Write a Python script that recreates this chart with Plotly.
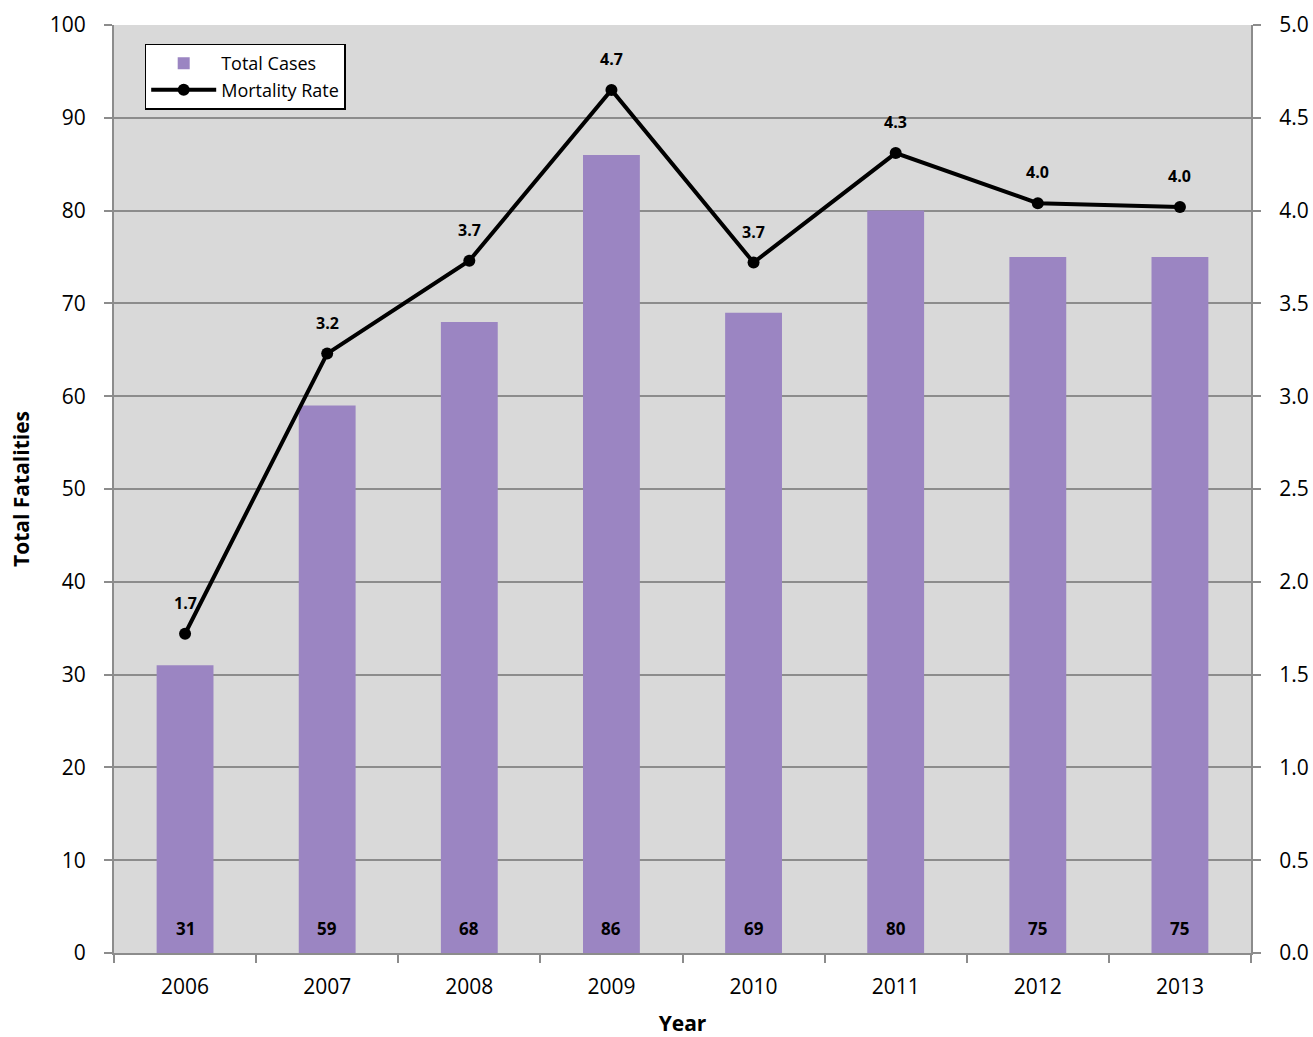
import plotly.graph_objects as go

years = [2006, 2007, 2008, 2009, 2010, 2011, 2012, 2013]
total_cases = [31, 59, 68, 86, 69, 80, 75, 75]
mortality_rate = [1.72, 3.23, 3.73, 4.65, 3.72, 4.31, 4.04, 4.02]

FONT = "Open Sans"
GRID = "#8c8c8c"

fig = go.Figure()
fig.add_trace(go.Bar(
    x=years, y=total_cases, name="Total Cases",
    marker=dict(color="#9b85c2", line=dict(width=0)),
))
fig.add_trace(go.Scatter(
    x=years, y=mortality_rate, name="Mortality Rate", yaxis="y2",
    mode="lines+markers",
    line=dict(color="black", width=4),
    marker=dict(color="black", size=12),
))
for yr, v in zip(years, total_cases):
    fig.add_annotation(x=yr, y=0, xref="x", yref="y", text=f"<b>{v}</b>",
                       showarrow=False, yshift=25,
                       font=dict(family=FONT, size=17, color="black"))
for yr, r in zip(years, mortality_rate):
    fig.add_annotation(x=yr, y=r, xref="x", yref="y2", text=f"<b>{r:.1f}</b>",
                       showarrow=False, yshift=31,
                       font=dict(family=FONT, size=16, color="black"))

fig.update_layout(
    width=1313, height=1037,
    margin=dict(l=114, r=62, t=25, b=84, autoexpand=False),
    paper_bgcolor="white", plot_bgcolor="#d9d9d9",
    font=dict(family=FONT, size=21, color="black"),
    bargap=0.6,
    showlegend=True,
    legend=dict(x=0.027, y=0.98, xanchor="left", yanchor="top",
                bgcolor="white", bordercolor="black", borderwidth=1.5,
                font=dict(family=FONT, size=18), tracegroupgap=0,
                itemwidth=65),
    xaxis=dict(type="linear", automargin=False, range=[2005.5, 2013.5],
               tickvals=years, ticktext=[str(y) for y in years],
               title=dict(text="<b>Year</b>", font=dict(size=21), standoff=24),
               showline=True, linecolor=GRID, linewidth=2,
               ticks="", showgrid=False, ticklabelstandoff=14, tickangle=0,
               minor=dict(tickvals=[y - 0.5 for y in years] + [years[-1] + 0.5],
                          ticks="outside", ticklen=8, tickcolor=GRID,
                          tickwidth=2, showgrid=False)),
    yaxis=dict(automargin=False,
               title=dict(text="<b>Total Fatalities</b>", font=dict(size=21), standoff=14),
               range=[0, 100], dtick=10, showline=True, linecolor=GRID,
               linewidth=2, ticks="outside", ticklen=8, tickcolor=GRID,
               tickwidth=2, gridcolor=GRID, gridwidth=2, zeroline=False,
               ticklabelstandoff=14),
    yaxis2=dict(overlaying="y", side="right", range=[0, 5], dtick=0.5,
                automargin=False,
                tickformat=".1f", showline=True, linecolor=GRID, linewidth=2,
                ticks="outside", ticklen=8, tickcolor=GRID, tickwidth=2,
                showgrid=False, zeroline=False, ticklabelstandoff=14),
)
fig.write_html("out.html", config={"displayModeBar": False},
               post_script="document.body.style.margin='0';")
